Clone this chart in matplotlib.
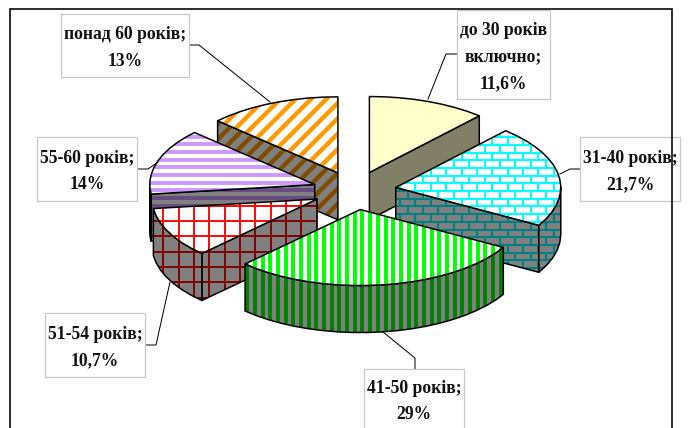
"""Age structure as an exploded 3D pie with patterned slices."""

import numpy as np
import matplotlib
matplotlib.use("Agg")
import matplotlib.pyplot as plt
from matplotlib.collections import LineCollection
from matplotlib.patches import Polygon, Rectangle

age_groups = ["до 30 років\nвключно", "31-40 років", "41-50 років",
              "51-54 років", "55-60 років", "понад 60 років"]
shares = [11.6, 21.7, 29, 10.7, 14, 13]

top_colors = ["#FFFFCC", "#00FFFF", "#00FF00", "#FF0000", "#CC99FF", "#FF9900"]
side_colors = ["#808066", "#008080", "#008000", "#800000", "#664C80", "#804C00"]
patterns = [None, "brick", "vertical", "grid", "horizontal", "diagonal"]

# pixel canvas layout
WIDTH, HEIGHT = 688, 428
CX, CY = 354.5, 190.5
A, B = 165, 76
EXPLODE = 41.8
DEPTH = 47
CELL = 15.36

# label boxes: x0, y0, x1, y1 and the leader line running from the slice to the box
boxes = [(457, 10, 550, 99), (580, 137, 680, 201), (364, 369, 464, 434),
         (45, 313, 145, 377), (37, 137, 137, 201), (61, 14, 189, 77)]
leaders = [[(428, 99), (446, 54), (457, 54)],
           [(560, 174), (570, 169), (580, 169)],
           [(383, 332), (415, 358), (415, 369)],
           [(170, 282), (156, 345), (146, 345)],
           [(158, 162), (148, 169), (138, 169)],
           [(270, 102), (199, 45), (189, 45)]]

plt.rcParams["font.family"] = ["Liberation Serif", "DejaVu Serif"]

fig = plt.figure(figsize=(WIDTH / 100, HEIGHT / 100), dpi=100)
ax = fig.add_axes([0, 0, 1, 1])
ax.set_xlim(0, WIDTH)
ax.set_ylim(HEIGHT, 0)
ax.axis("off")


def px(width):
    return width * 0.72


def rim_points(apex, t0, t1):
    n = max(3, int(abs(t1 - t0) / 5) + 1)
    t = np.radians(np.linspace(t0, t1, n))
    return np.column_stack([apex[0] + A * np.sin(t), apex[1] - B * np.cos(t)])


def steps(low, high, step, phase):
    first = np.floor((low - phase) / step) * step + phase
    return np.arange(first, high + step, step)


def pattern_segments(kind, bounds):
    x0, y0, x1, y1 = bounds
    half = CELL / 2
    segs = []
    if kind == "vertical":
        segs = [[(x, y0), (x, y1)] for x in steps(x0, x1, half, 1.5)]
    elif kind == "horizontal":
        segs = [[(x0, y), (x1, y)] for y in steps(y0, y1, half, 6.0)]
    elif kind == "grid":
        segs = [[(x, y0), (x, y1)] for x in steps(x0, x1, CELL, 9.6)]
        segs += [[(x0, y), (x1, y)] for y in steps(y0, y1, CELL, 6.0)]
    elif kind == "diagonal":
        span = y1 - y0
        segs = [[(x, y0), (x - span, y1)] for x in steps(x0, x1 + span, CELL, 6.0)]
    elif kind == "brick":
        for y in steps(y0, y1, half, 6.8):
            segs.append([(x0, y), (x1, y)])
            odd = int(round((y - 6.8) / half)) % 2
            for x in steps(x0, x1, CELL, 8.4 + odd * half):
                segs.append([(x, y), (x, y + half)])
    return segs


PATTERN_WIDTH = {"vertical": 3.9, "horizontal": 3.9, "grid": 1.9, "diagonal": 4.4, "brick": 2.1}


def draw_face(points, fill, kind, line_color, z):
    patch = Polygon(points, closed=True, facecolor=fill, edgecolor="none", zorder=z)
    ax.add_patch(patch)
    if kind:
        x0, y0 = points.min(axis=0)
        x1, y1 = points.max(axis=0)
        lines = LineCollection(pattern_segments(kind, (x0, y0, x1, y1)), colors=line_color,
                               linewidths=px(PATTERN_WIDTH[kind]), capstyle="butt", zorder=z)
        ax.add_collection(lines)
        lines.set_clip_path(patch)
    ax.add_patch(Polygon(points, closed=True, facecolor="none", edgecolor="black",
                         linewidth=px(1.5), joinstyle="round", zorder=z))


def extrude(edge):
    edge = np.asarray(edge)
    return np.vstack([edge, edge[::-1] + [0, DEPTH]])


ends = np.cumsum(shares) * 3.6
starts = np.concatenate([[0], ends[:-1]])

# back slices first so the front ones overlap them
z = 2
for i in [0, 5, 4, 3, 1, 2]:
    t0, t1 = starts[i], ends[i]
    mid = np.radians((t0 + t1) / 2)
    apex = np.array([CX + EXPLODE * np.sin(mid), CY - EXPLODE * B / A * np.cos(mid)])
    kind = patterns[i]
    side_fill = side_colors[i] if kind is None else "#808080"

    # side faces that turn towards the viewer
    if 180 < t0 < 360:
        draw_face(extrude([apex, rim_points(apex, t0, t0)[0]]), side_fill, kind, side_colors[i], z)
        z += 1
    if 0 < t1 < 180:
        draw_face(extrude([apex, rim_points(apex, t1, t1)[0]]), side_fill, kind, side_colors[i], z)
        z += 1
    r0, r1 = max(t0, 90), min(t1, 270)
    if r0 < r1:
        draw_face(extrude(rim_points(apex, r0, r1)), side_fill, kind, side_colors[i], z)
        z += 1

    top = np.vstack([apex, rim_points(apex, t0, t1)])
    draw_face(top, "#FFFFFF" if kind else top_colors[i], kind, top_colors[i], z)
    z += 1

# labels with leader lines
for i, (x0, y0, x1, y1) in enumerate(boxes):
    pts = np.array(leaders[i])
    ax.plot(pts[:, 0], pts[:, 1], color="black", lw=px(1.0), zorder=50)
    ax.add_patch(Rectangle((x0, y0), x1 - x0, y1 - y0, facecolor="white",
                           edgecolor="#C8C8C8", linewidth=px(1.2), zorder=51))
    value = f"{shares[i]:g}".replace(".", ",")
    ax.text((x0 + x1) / 2, min((y0 + y1) / 2, 399) + 2.5, f"{age_groups[i]};\n{value}%",
            ha="center", va="center", fontsize=12.7, fontweight="bold",
            linespacing=1.75, color="#111111", zorder=52)

# chart frame, open at the bottom edge of the canvas
ax.plot([10, 10, 672, 672], [HEIGHT, 9, 9, HEIGHT], color="black", lw=px(1.6),
        solid_joinstyle="miter", zorder=60)

fig.savefig("out.png", dpi=100, facecolor="white")
